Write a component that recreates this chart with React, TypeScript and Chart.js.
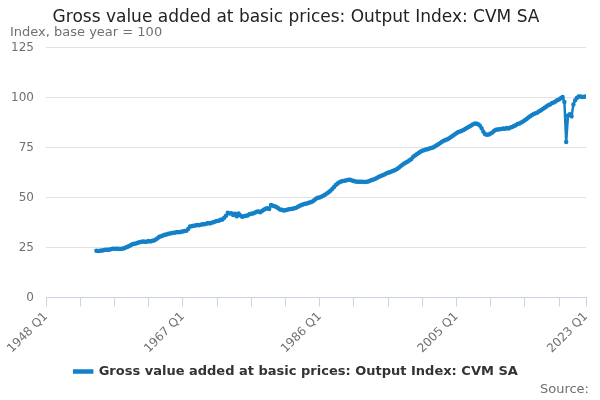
import { useEffect, useRef } from 'react'
import { Chart, registerables } from 'chart.js'

Chart.register(...registerables)

// quarterly series, 1955 Q1 .. 2023 Q1 (one row per year)
const firstQuarterIndex = 28 // quarters after 1948 Q1
const yearRows: number[][] = [
  [23.3, 23.2, 23.4, 23.5], [23.6, 23.8, 23.9, 23.8], [24.1, 24.3, 24.4, 24.3], [24.3, 24.2, 24.4, 24.5],
  [24.8, 25.2, 25.6, 26.1], [26.6, 26.9, 27.0, 27.3], [27.6, 27.8, 28.0, 27.9], [27.9, 28.2, 28.0, 28.3],
  [28.5, 29.0, 29.6, 30.3], [30.6, 31.0, 31.3, 31.5], [31.8, 32.0, 32.2, 32.3], [32.5, 32.7, 32.6, 32.8],
  [33.0, 33.2, 33.4, 34.2], [35.5, 35.6, 35.8, 36.0], [36.2, 36.1, 36.4, 36.6], [36.6, 36.9, 37.2, 37.0],
  [37.4, 37.6, 38.0, 38.2], [38.4, 38.8, 39.0, 39.8], [40.8, 42.3, 42.0, 42.1], [41.2, 41.8, 40.6, 42.0],
  [41.0, 40.4, 40.6, 40.8], [41.0, 41.6, 41.8, 42.0], [42.3, 42.8, 43.0, 42.6], [43.2, 43.8, 44.3, 44.6],
  [44.2, 46.2, 45.8, 45.6], [45.2, 44.6, 44.0, 43.8], [43.5, 43.6, 43.9, 44.1], [44.2, 44.4, 44.6, 44.8],
  [45.4, 45.8, 46.2, 46.6], [46.8, 47.0, 47.3, 47.6], [48.0, 48.6, 49.3, 49.8], [50.0, 50.3, 50.8, 51.4],
  [52.0, 52.6, 53.4, 54.2], [55.2, 56.2, 57.0, 57.6], [58.0, 58.2, 58.4, 58.6], [58.8, 58.9, 58.5, 58.2],
  [58.0, 57.9, 57.8, 57.8], [57.8, 57.7, 57.8, 58.0], [58.3, 58.7, 59.0, 59.4], [59.8, 60.3, 60.7, 61.1],
  [61.5, 61.9, 62.3, 62.6], [62.9, 63.3, 63.7, 64.2], [64.8, 65.6, 66.3, 66.9], [67.5, 68.0, 68.6, 69.2],
  [70.3, 71.0, 71.6, 72.2], [72.8, 73.3, 73.6, 73.9], [74.1, 74.4, 74.7, 75.0], [75.5, 76.1, 76.6, 77.2],
  [77.8, 78.3, 78.7, 79.1], [79.6, 80.2, 80.8, 81.5], [82.1, 82.7, 83.0, 83.3], [83.7, 84.3, 84.8, 85.3],
  [85.8, 86.4, 86.8, 87.0], [86.6, 86.0, 84.6, 82.8], [81.6, 81.3, 81.5, 81.9], [82.4, 83.3, 83.8, 84.0],
  [84.1, 84.2, 84.4, 84.3], [84.7, 84.5, 85.0, 85.2], [85.7, 86.1, 86.7, 86.9], [87.4, 88.0, 88.6, 89.2],
  [89.9, 90.6, 91.2, 91.7], [92.1, 92.5, 93.1, 93.6], [94.2, 94.8, 95.4, 96.1], [96.5, 97.1, 97.5, 97.9],
  [98.6, 99.0, 99.6, 100.2], [97.7, 77.7, 91.0, 91.6], [90.6, 96.5, 98.6, 99.8], [100.5, 100.4, 100.2, 100.3],
  [100.4],
]

const tickLabels: Record<number, string> = { 0: '1948 Q1', 76: '1967 Q1', 152: '1986 Q1', 228: '2005 Q1', 300: '2023 Q1' }
const yTicks = [0, 25, 50, 75, 100, 125]

const points = yearRows.flat().map((y, i) => ({ x: firstQuarterIndex + i, y }))

const font = '"DejaVu Sans", Verdana, sans-serif'

const overlayText = {
  id: 'overlayText',
  // @ts-expect-error loose typing
  afterDraw(chart) {
    const { ctx } = chart
    ctx.save()
    ctx.font = `13px ${font}`
    ctx.fillStyle = '#707070'
    ctx.textAlign = 'left'
    ctx.textBaseline = 'alphabetic'
    ctx.fillText('Index, base year = 100', 10, 36)
    ctx.textAlign = 'right'
    ctx.fillText('Source:', 589, 393)
    ctx.restore()
  },
}

export default function App() {
  const ref = useRef<HTMLCanvasElement>(null)

  useEffect(() => {
    document.body.style.margin = '0'
    if (!ref.current) return
    const chart = new Chart(ref.current, {
      type: 'line',
      data: {
        datasets: [{
          label: 'Gross value added at basic prices: Output Index: CVM SA',
          data: points,
          borderColor: '#1380c8',
          backgroundColor: '#1380c8',
          borderWidth: 2.5,
          pointRadius: 1,
          pointHoverRadius: 1,
          tension: 0,
        }],
      },
      options: {
        animation: false,
        responsive: false,
        layout: { padding: { top: 0, right: 14, left: 6, bottom: 12 } },
        plugins: {
          title: {
            display: true,
            text: 'Gross value added at basic prices: Output Index: CVM SA',
            color: '#222',
            font: { family: font, size: 17, weight: 'normal' },
            padding: { top: 7, bottom: 20 },
          },
          legend: {
            position: 'bottom',
            labels: {
              color: '#333',
              font: { family: font, size: 13, weight: 'bold' },
              boxWidth: 18,
              boxHeight: 2,
              padding: 6,
            },
          },
          tooltip: { enabled: false },
        },
        scales: {
          x: {
            type: 'linear',
            min: 0,
            max: 300,
            // @ts-expect-error loose typing
            afterBuildTicks(axis) {
              const t = []
              for (let v = 0; v < 300; v += 19) t.push({ value: v })
              t.push({ value: 300 })
              axis.ticks = t
            },
            ticks: {
              autoSkip: false,
              maxRotation: 45,
              minRotation: 45,
              color: '#707070',
              font: { family: font, size: 12 },
              callback: (v: number) => tickLabels[v] ?? '',
            },
            grid: { drawOnChartArea: false, color: '#c8d3e6', tickLength: 9 },
            border: { color: '#c8d3e6' },
          },
          y: {
            min: 0,
            max: 125,
            // @ts-expect-error loose typing
            afterBuildTicks(axis) { axis.ticks = yTicks.map(value => ({ value })) },
            afterFit(axis: { width: number }) { axis.width = 40 },
            ticks: { color: '#707070', font: { family: font, size: 12 }, padding: 12 },
            grid: { color: '#e2e2e2', drawTicks: false },
            border: { display: false },
          },
        },
      },
      plugins: [overlayText],
    })
    return () => chart.destroy()
  }, [])

  return <canvas ref={ref} width={600} height={400} style={{ display: 'block' }} />
}
